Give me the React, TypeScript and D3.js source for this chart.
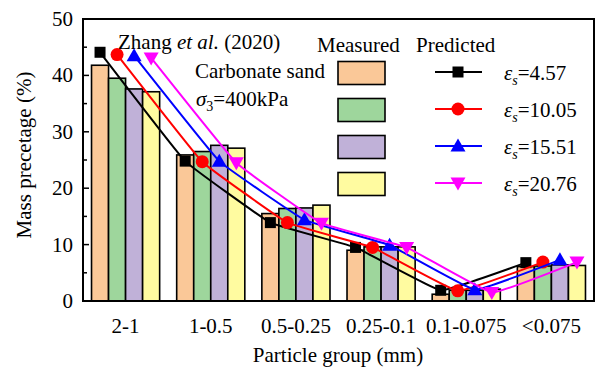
import React from "react";
import * as d3 from "d3";

const categories = ["2-1", "1-0.5", "0.5-0.25", "0.25-0.1", "0.1-0.075", "<0.075"];

// Measured mass percentages for each test
const measuredA = [41.8, 25.9, 15.5, 9.0, 1.2, 6.1];
const measuredB = [39.5, 26.5, 16.4, 9.6, 1.9, 6.2];
const measuredC = [37.6, 27.6, 16.5, 9.6, 1.9, 6.4];
const measuredD = [37.1, 27.1, 17.0, 9.6, 2.1, 6.3];

// Predicted mass percentages
const pred457 = [44.1, 24.8, 13.9, 9.5, 1.9, 6.8];
const pred1005 = [43.7, 24.7, 13.9, 9.5, 1.8, 6.9];
const pred1551 = [43.5, 24.8, 14.4, 9.9, 2.0, 7.3];
const pred2076 = [43.1, 24.5, 13.8, 9.5, 1.5, 6.9];

const predLabels = ["4.57", "10.05", "15.51", "20.76"];
const yTicks = [0, 10, 20, 30, 40, 50];
const yMinorTicks = [5, 15, 25, 35, 45];

const barColors = ["#FAC898", "#9ED69C", "#C0B1D8", "#FFFBA0"];
const lineColors = ["#000000", "#FF0000", "#0000FF", "#FF00FF"];
const markerKinds = ["square", "circle", "triangle", "triangleDown"];

const W = 597;
const H = 367;
const M = { left: 83, right: 594, top: 19, bottom: 301 };
const FONT = "'Liberation Serif', Tinos, 'Times New Roman', 'DejaVu Serif', serif";
const FS = 21;

function Marker({ kind, x, y, color }: { kind: string; x: number; y: number; color: string }) {
  if (kind === "square") return <rect x={x - 5.5} y={y - 5.5} width={11} height={11} fill={color} />;
  if (kind === "circle") return <circle cx={x} cy={y} r={6.5} fill={color} />;
  if (kind === "triangle")
    return <path d={`M${x},${y - 7.5} L${x + 7.5},${y + 5.5} L${x - 7.5},${y + 5.5} Z`} fill={color} />;
  return <path d={`M${x},${y + 7.5} L${x + 7.5},${y - 5.5} L${x - 7.5},${y - 5.5} Z`} fill={color} />;
}

function T(props: any) {
  return <text style={{ fontFamily: FONT }} fontSize={FS} fill="#000" {...props} />;
}

export default function App() {
  const measured = [measuredA, measuredB, measuredC, measuredD];
  const predicted = [pred457, pred1005, pred1551, pred2076];

  const x = d3.scaleBand<string>().domain(categories).range([M.left, M.right]).paddingInner(0.2).paddingOuter(0.1);
  const sub = d3.scaleBand<number>().domain([0, 1, 2, 3]).range([0, x.bandwidth()]);
  const y = d3.scaleLinear().domain([0, 50]).range([M.bottom, M.top]);

  const legX = 338;
  const legRows = [73, 110, 147, 184];

  return (
    <svg width={W} height={H} style={{ position: "absolute", left: 0, top: 0 }}>
      <rect width={W} height={H} fill="#fff" />
      {/* bars */}
      {measured.map((series, s) =>
        series.map((v, i) => (
          <rect
            key={`b${s}-${i}`}
            x={(x(categories[i]) as number) + (sub(s) as number)}
            y={y(v)}
            width={sub.bandwidth()}
            height={y(0) - y(v)}
            fill={barColors[s]}
            stroke="#000"
            strokeWidth={1.6}
          />
        ))
      )}
      {/* predicted lines */}
      {predicted.map((series, s) => {
        const xs = series.map((_, i) => (x(categories[i]) as number) + (sub(s) as number) + sub.bandwidth() / 2);
        const gen = d3
          .line<number>()
          .x((_, i) => xs[i])
          .y((d) => y(d))
          .curve(d3.curveCardinal.tension(0.75));
        return (
          <g key={`l${s}`}>
            <path d={gen(series) || ""} fill="none" stroke={lineColors[s]} strokeWidth={2} />
            {series.map((v, i) => (
              <Marker key={i} kind={markerKinds[s]} x={xs[i]} y={y(v)} color={lineColors[s]} />
            ))}
          </g>
        );
      })}
      {/* frame */}
      <rect x={M.left} y={M.top} width={M.right - M.left} height={M.bottom - M.top} fill="none" stroke="#000" strokeWidth={2} />
      {/* y ticks */}
      {yTicks.map((t) => (
        <g key={`t${t}`}>
          <line x1={M.left} x2={M.left + 6} y1={y(t)} y2={y(t)} stroke="#000" strokeWidth={1.5} />
          <T x={M.left - 10} y={y(t) + 7} textAnchor="end">
            {t}
          </T>
        </g>
      ))}
      {yMinorTicks.map((t) => (
        <line key={`m${t}`} x1={M.left} x2={M.left + 4} y1={y(t)} y2={y(t)} stroke="#000" strokeWidth={1.5} />
      ))}
      {/* x labels */}
      {categories.map((c) => (
        <T key={c} x={(x(c) as number) + x.bandwidth() / 2} y={333} textAnchor="middle">
          {c}
        </T>
      ))}
      <T x={338} y={362} textAnchor="middle">
        Particle group (mm)
      </T>
      <T transform="translate(31,155) rotate(-90)" textAnchor="middle">
        Mass precetage (%)
      </T>
      {/* annotations */}
      <T x={118} y={49}>
        Zhang <tspan fontStyle="italic">et al.</tspan> (2020)
      </T>
      <T x={195} y={78}>
        Carbonate sand
      </T>
      <T x={196} y={106}>
        <tspan fontStyle="italic">σ</tspan>
        <tspan fontSize={14} dy={5}>3</tspan>
        <tspan dy={-5}>=400kPa</tspan>
      </T>
      {/* legend */}
      <T x={317} y={52}>
        Measured
      </T>
      <T x={416} y={52}>
        Predicted
      </T>
      {legRows.map((ry, s) => (
        <g key={`lg${s}`}>
          <rect x={legX} y={ry - 11.5} width={47} height={23} fill={barColors[s]} stroke="#000" strokeWidth={1.6} />
          <line x1={435} x2={482} y1={ry - 1} y2={ry - 1} stroke={lineColors[s]} strokeWidth={2} />
          <Marker kind={markerKinds[s]} x={458} y={ry - 1} color={lineColors[s]} />
          <T x={504} y={ry + 7}>
            <tspan fontStyle="italic">ε</tspan>
            <tspan fontStyle="italic" fontSize={14} dy={5}>s</tspan>
            <tspan dy={-5}>={predLabels[s]}</tspan>
          </T>
        </g>
      ))}
    </svg>
  );
}
